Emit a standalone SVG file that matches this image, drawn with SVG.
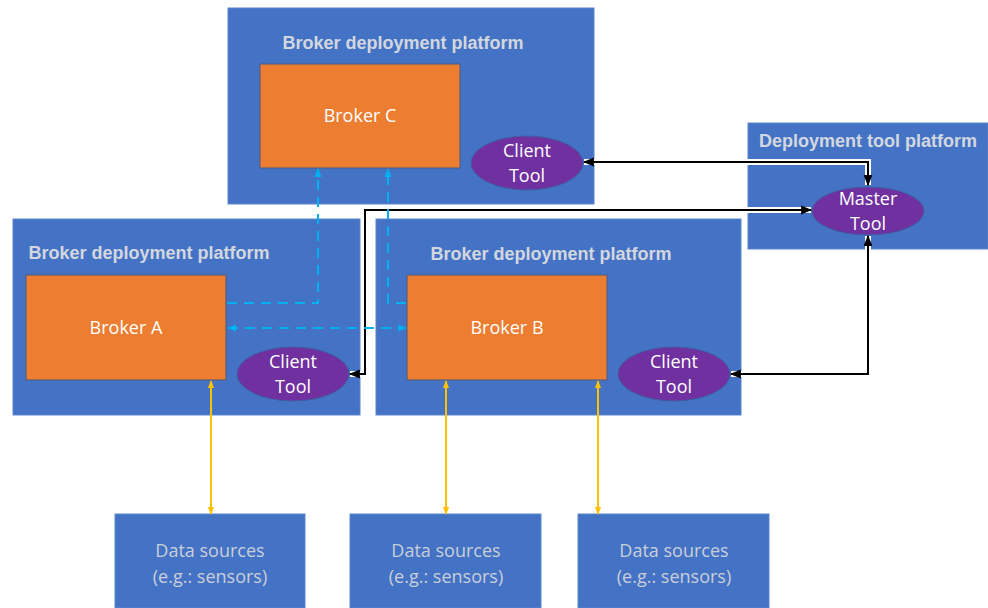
<svg xmlns="http://www.w3.org/2000/svg" width="988" height="608" viewBox="0 0 988 608">
<defs>
<marker id="ab" viewBox="0 0 10 10" refX="9" refY="5" markerWidth="11" markerHeight="11" markerUnits="userSpaceOnUse" orient="auto-start-reverse"><path d="M0,1 L10,5 L0,9 Z" fill="#000"/></marker>
<marker id="ac" viewBox="0 0 10 10" refX="9" refY="5" markerWidth="9" markerHeight="9" markerUnits="userSpaceOnUse" orient="auto-start-reverse"><path d="M0,1 L10,5 L0,9 Z" fill="#00B0F0"/></marker>
<marker id="ay" viewBox="0 0 10 10" refX="9" refY="5" markerWidth="8" markerHeight="8" markerUnits="userSpaceOnUse" orient="auto-start-reverse"><path d="M0,1 L10,5 L0,9 Z" fill="#FFC000"/></marker>
</defs>
<style>
.plat{fill:#4472C4;stroke:#5B86D0;stroke-width:1}
.brk{fill:#ED7D31;stroke:#4A5A80;stroke-width:1}
.tool{fill:#7030A0;stroke:#3F5FA0;stroke-width:1}
.title{font-family:"Liberation Sans",Arial,sans-serif;font-weight:bold;font-size:18px;fill:#D3D7DF;text-anchor:middle}
.wt{font-family:"Open Sans","Liberation Sans",sans-serif;font-size:18px;fill:#FFFFFF;text-anchor:middle}
.ds{font-family:"Open Sans","Liberation Sans",sans-serif;font-size:18px;fill:#C9CFD9;text-anchor:middle}
.blk{fill:none;stroke:#000;stroke-width:2}
.halo{fill:none;stroke:#FFFFFF;stroke-width:6}
.dash{fill:none;stroke:#00B0F0;stroke-width:2;stroke-dasharray:10,7}
.yel{fill:none;stroke:#FFC000;stroke-width:2}
</style>
<rect width="988" height="608" fill="#FFFFFF"/>
<g id="platformC">
<rect class="plat" x="228" y="8" width="366" height="196"/>
<text class="title" x="403" y="49">Broker deployment platform</text>
</g>
<g id="platformA">
<rect class="plat" x="13" y="219" width="347" height="196"/>
<text class="title" x="149" y="259">Broker deployment platform</text>
</g>
<g id="platformB">
<rect class="plat" x="376" y="219" width="365" height="196"/>
<text class="title" x="551" y="260">Broker deployment platform</text>
</g>
<g id="platformTool">
<rect class="plat" x="748" y="123" width="240" height="126"/>
<text class="title" x="868" y="147">Deployment tool platform</text>
</g>
<g id="brokerC">
<rect class="brk" x="260" y="64" width="200" height="104"/>
<text class="wt" x="360" y="122">Broker C</text>
</g>
<g id="brokerA">
<rect class="brk" x="26" y="275" width="200" height="105"/>
<text class="wt" x="126" y="334">Broker A</text>
</g>
<g id="brokerB">
<rect class="brk" x="407" y="275" width="200" height="105"/>
<text class="wt" x="507" y="334">Broker B</text>
</g>
<g id="clientC">
<ellipse class="tool" cx="527" cy="163" rx="56" ry="27"/>
<text class="wt" x="527" y="157">Client</text>
<text class="wt" x="527" y="182">Tool</text>
</g>
<g id="clientA">
<ellipse class="tool" cx="293" cy="374" rx="56" ry="27"/>
<text class="wt" x="293" y="368">Client</text>
<text class="wt" x="293" y="393">Tool</text>
</g>
<g id="clientB">
<ellipse class="tool" cx="674" cy="374" rx="56" ry="27"/>
<text class="wt" x="674" y="368">Client</text>
<text class="wt" x="674" y="393">Tool</text>
</g>
<g id="master">
<ellipse class="tool" cx="868" cy="211" rx="56" ry="24"/>
<text class="wt" x="868" y="205">Master</text>
<text class="wt" x="868" y="230">Tool</text>
</g>
<g id="ds1">
<rect class="plat" x="115" y="514" width="190" height="94"/>
<text class="ds" x="210" y="557">Data sources</text>
<text class="ds" x="210" y="583">(e.g.: sensors)</text>
</g>
<g id="ds2">
<rect class="plat" x="350" y="514" width="191" height="94"/>
<text class="ds" x="446" y="557">Data sources</text>
<text class="ds" x="446" y="583">(e.g.: sensors)</text>
</g>
<g id="ds3">
<rect class="plat" x="578" y="514" width="191" height="94"/>
<text class="ds" x="674" y="557">Data sources</text>
<text class="ds" x="674" y="583">(e.g.: sensors)</text>
</g>
<g id="connectors">
<path class="halo" d="M584,162 H868 V185"/>
<path class="halo" d="M811,210 H365 V374 H350"/>
<path class="halo" d="M868,236 V374 H731"/>
<path class="blk" d="M584,162 H868 V185" marker-start="url(#ab)" marker-end="url(#ab)"/>
<path class="blk" d="M811,210 H365 V374 H350" marker-start="url(#ab)" marker-end="url(#ab)"/>
<path class="blk" d="M868,236 V374 H731" marker-start="url(#ab)" marker-end="url(#ab)"/>
<path class="dash" d="M227,303 H318 V169" marker-end="url(#ac)"/>
<path class="dash" d="M406,303 H388 V169" marker-end="url(#ac)"/>
<path class="dash" d="M228,328 H406" marker-start="url(#ac)" marker-end="url(#ac)"/>
<path class="yel" d="M211,381 V514" marker-start="url(#ay)" marker-end="url(#ay)"/>
<path class="yel" d="M446,381 V514" marker-start="url(#ay)" marker-end="url(#ay)"/>
<path class="yel" d="M598,381 V514" marker-start="url(#ay)" marker-end="url(#ay)"/>
</g>
</svg>
